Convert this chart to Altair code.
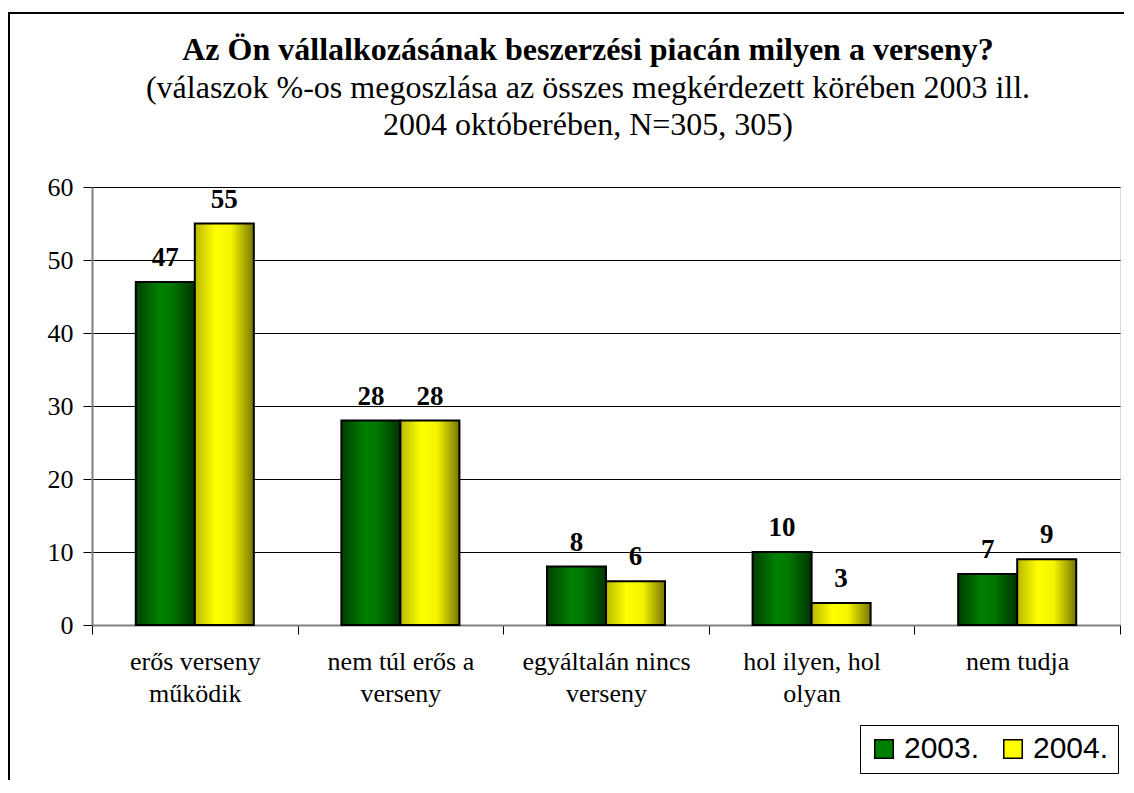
import altair as alt
import pandas as pd

categories = ["erős verseny\nműködik", "nem túl erős a\nverseny", "egyáltalán nincs\nverseny",
              "hol ilyen, hol\nolyan", "nem tudja"]
years = ["2003.", "2004."]
v2003 = [47, 28, 8, 10, 7]
v2004 = [55, 28, 6, 3, 9]
y_ticks = [0, 10, 20, 30, 40, 50, 60]

rows = []
for c, a, b in zip(categories, v2003, v2004):
    rows.append({"cat": c, "year": years[0], "value": a})
    rows.append({"cat": c, "year": years[1], "value": b})
df = pd.DataFrame(rows)

green = alt.Gradient(gradient="linear", x1=0, x2=1, y1=0, y2=0, stops=[
    alt.GradientStop(offset=0, color="#003f00"),
    alt.GradientStop(offset=0.4, color="#008000"),
    alt.GradientStop(offset=0.6, color="#007800"),
    alt.GradientStop(offset=1, color="#003300")])
yellow = alt.Gradient(gradient="linear", x1=0, x2=1, y1=0, y2=0, stops=[
    alt.GradientStop(offset=0, color="#b8b800"),
    alt.GradientStop(offset=0.35, color="#ffff00"),
    alt.GradientStop(offset=0.62, color="#f4f400"),
    alt.GradientStop(offset=1, color="#767600")])

serif = "Liberation Serif"

x = alt.X("cat:N", sort=categories, scale=alt.Scale(paddingInner=0, paddingOuter=0),
          axis=alt.Axis(title=None, labelAngle=0,
                        labelExpr="isValid(datum.value) ? split(datum.value, '\\n') : ''",
                        tickBand="extent", labelFont=serif, labelFontSize=26, labelColor="black",
                        labelLineHeight=32, labelPadding=14, tickSize=9, tickColor="black",
                        domainColor="#808080", domainWidth=2, grid=False, labelBaseline="top"))
xo = alt.XOffset("year:N", scale=alt.Scale(domain=years, paddingInner=0, paddingOuter=0.742))
y = alt.Y("value:Q", scale=alt.Scale(domain=[0, 60], nice=False),
          axis=alt.Axis(title=None, values=y_ticks, labelFont=serif, labelFontSize=26,
                        labelColor="black", labelPadding=10, tickSize=9, tickColor="black",
                        domainColor="#808080", domainWidth=2, gridColor="black", gridWidth=1))

base = alt.Chart(df).encode(x=x, xOffset=xo, y=y)

frame = alt.Chart(pd.DataFrame({"k": [0]})).mark_rect(filled=False, stroke="black", strokeWidth=2).encode(
    x=alt.value(-83), x2=alt.value(1300), y=alt.value(-174), y2=alt.value(900))

bars03 = base.transform_filter(alt.datum.year == years[0]).mark_bar(fill=green, stroke="black", strokeWidth=2)
bars04 = base.transform_filter(alt.datum.year == years[1]).mark_bar(fill=yellow, stroke="black", strokeWidth=2)
labels = base.mark_text(baseline="alphabetic", dy=-16, font=serif, fontSize=27,
                        fontWeight="bold", color="black").encode(text="value:Q")
legend_layer = base.mark_square(opacity=0).encode(
    color=alt.Color("year:N", scale=alt.Scale(domain=years, range=["#008000", "#FFFF00"]),
                    legend=alt.Legend(title=None, orient="none", legendX=768, legendY=538,
                                      direction="horizontal", symbolType="square", symbolSize=340,
                                      symbolStrokeColor="black", symbolStrokeWidth=1.5,
                                      symbolOpacity=1, labelFont="Liberation Sans",
                                      labelFontSize=30, labelColor="black", strokeColor="black",
                                      fillColor="white", padding=9, columnPadding=18,
                                      labelOffset=5)))

chart = alt.layer(frame, bars03, bars04, labels, legend_layer).properties(
    width=1028, height=438,
    padding={"left": 84, "top": 179, "right": 4, "bottom": 155},
    autosize=alt.AutoSizeParams(type="none"),
    title=alt.Title(
        text="Az Ön vállalkozásának beszerzési piacán milyen a verseny?",
        subtitle=["(válaszok %-os megoszlása az összes megkérdezett körében 2003 ill.",
                  "2004 októberében, N=305, 305)"],
        font=serif, fontSize=32, fontWeight="bold", color="black",
        subtitleFont=serif, subtitleFontSize=32, subtitleColor="black",
        subtitleLineHeight=37, subtitlePadding=6, anchor="middle", frame="group",
        dx=-18, offset=-130)
).configure_view(fill="#FFFFCC", stroke="#808080", strokeWidth=2).configure(
    background="white"
).configure_axis(labelFont=serif, labelFontSize=26, labelColor="black")

chart.save("out.html", embed_options={"renderer": "svg", "actions": False})
